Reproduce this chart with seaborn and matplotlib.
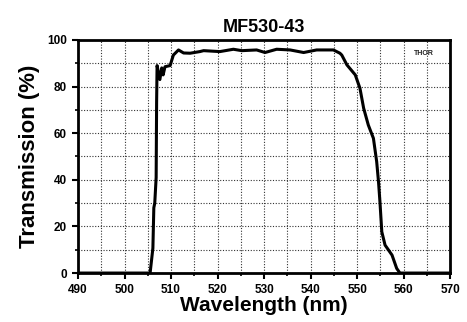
import numpy as np
import pandas as pd
import seaborn as sns
import matplotlib
matplotlib.use("Agg")
from matplotlib import pyplot as plt
from matplotlib.ticker import MultipleLocator

# Transmission curve
wavelength = [490, 500, 505.5, 506.1, 506.3, 506.5, 506.8, 506.9, 507.0, 507.6, 508.0,
              508.3, 508.7, 509.8, 510.5, 511.6, 512.7, 514.1, 516.2, 517.0, 520.5,
              523.4, 525.2, 528.4, 530.2, 532.7, 535.6, 538.5, 541.3, 544.9, 546.3,
              546.7, 547.8, 549.6, 550.6, 551.4, 552.4, 553.5, 554.2, 554.6, 554.9,
              555.3, 556.0, 557.5, 558.5, 559.2, 565, 570]
transmission = [0, 0, 0, 10.7, 28, 30, 41, 73.5, 89, 83, 88,
                85, 88.5, 89, 93.5, 95.7, 94.4, 94.3, 95, 95.4, 95,
                96, 95.4, 95.7, 94.6, 96, 95.7, 94.6, 95.7, 95.7, 94.3,
                93.5, 89.3, 85, 79.3, 70.7, 63.5, 57.8, 47.8, 39, 30.6,
                17.7, 12, 7.7, 2, 0, 0, 0]

x_ticks = [490, 500, 510, 520, 530, 540, 550, 560, 570]
y_ticks = [0, 20, 40, 60, 80, 100]

df = pd.DataFrame({"wavelength": wavelength, "transmission": transmission})

sns.set_style("ticks")
plt.rcParams['font.family'] = ['Liberation Sans', 'DejaVu Sans']
plt.rcParams['font.weight'] = 'bold'
plt.rcParams['text.color'] = 'black'
plt.rcParams['axes.labelcolor'] = 'black'
plt.rcParams['xtick.color'] = 'black'
plt.rcParams['ytick.color'] = 'black'

fig = plt.figure(figsize=(4.67, 3.22), dpi=100)
ax = fig.add_axes([0.167, 0.152, 0.797, 0.724])

sns.lineplot(data=df, x="wavelength", y="transmission", ax=ax,
             color="black", linewidth=2.2, zorder=3)

ax.set_xlim(490, 570)
ax.set_ylim(0, 100)
ax.set_xticks(x_ticks)
ax.set_yticks(y_ticks)
ax.xaxis.set_minor_locator(MultipleLocator(5))
ax.yaxis.set_minor_locator(MultipleLocator(10))
ax.grid(which="both", linestyle=(0, (1, 1.5)), linewidth=0.8, color="#333333", zorder=1)

for s in ax.spines.values():
    s.set_linewidth(2)
    s.set_color("black")
ax.tick_params(which="major", length=4, width=1.5, labelsize=8.5, pad=4)
ax.tick_params(which="minor", length=2.5, width=1.2)
for lab in ax.get_xticklabels() + ax.get_yticklabels():
    lab.set_fontweight("bold")

ax.set_title("MF530-43", fontsize=13, fontweight="bold", pad=6)
ax.set_xlabel("Wavelength (nm)", fontsize=15, fontweight="bold", labelpad=0)
ax.set_ylabel("Transmission (%)", fontsize=16, fontweight="bold", labelpad=5)
ax.text(0.93, 0.955, "THOR", transform=ax.transAxes, fontsize=5,
        ha="center", va="top", color="#222222")

fig.savefig("out.png", dpi=100)
